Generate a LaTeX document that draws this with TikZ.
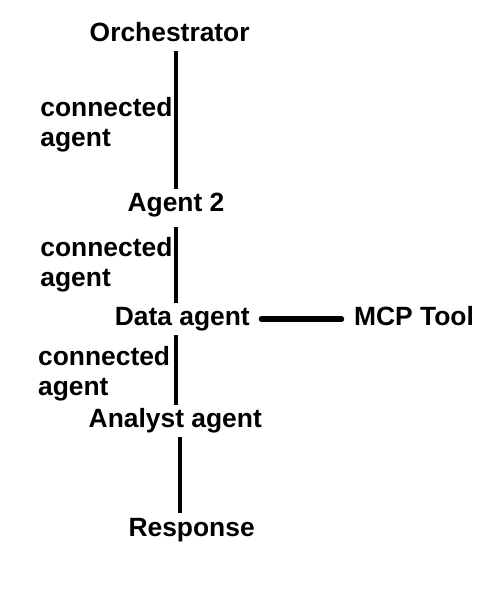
\documentclass[tikz,border=0pt]{standalone}
\usepackage{fontspec}
\setmainfont{Liberation Sans}
\usepackage{tikz}
\usetikzlibrary{positioning}

\begin{document}
\begin{tikzpicture}[x=0.5pt, y=-0.5pt,
		main/.style={anchor=base, inner xsep=2pt, inner ysep=2pt, text height=9.2pt, text depth=2.6pt, font=\bfseries\fontsize{13.2pt}{15pt}\selectfont},
		lbl/.style={anchor=north west, inner sep=0pt, align=left, font=\bfseries\fontsize{13.2pt}{15pt}\selectfont},
		link/.style={line width=1.6pt},
]
\useasboundingbox (0,0) rectangle (481,593);

\node[main] (orch) at (169.7,41.7) {Orchestrator};
\node[main] (agent2) at (176,211.7) {Agent 2};
\node[main] (data) at (182.3,325.7) {Data agent};
\node[main] (mcp) at (414,325.7) {MCP Tool};
\node[main] (analyst) at (175.3,427.7) {Analyst agent};
\node[main] (resp) at (191.6,536) {Response};

\node[lbl] (c1) at (40,96.5) {connected\\agent};
\node[lbl] (c2) at (40,236.7) {connected\\agent};
\node[lbl] (c3) at (37.7,345.7) {connected\\agent};


\draw [link] (agent2 |- orch.south) -- (agent2.north);
\draw [link, shorten <=3pt] (agent2.south) -- (agent2 |- data.north);
\draw [link] (agent2 |- data.south) -- (agent2 |- analyst.north);
\draw [link] ([xshift=2.35pt]analyst.south) -- ([xshift=-5.8pt]resp.north);
\draw [line width=2.7pt, line cap=round, shorten <=3.6pt, shorten >=4.1pt] (data.east) -- (mcp.west);


\end{tikzpicture}
\end{document}
